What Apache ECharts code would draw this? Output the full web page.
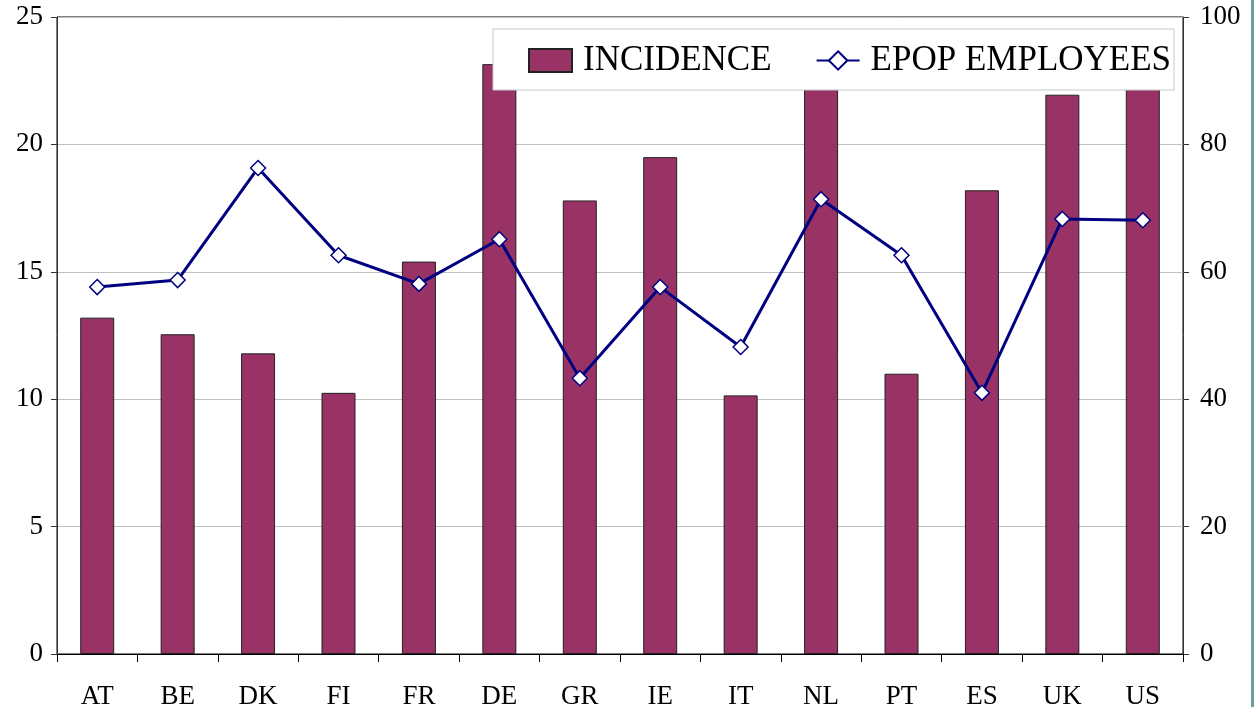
<!DOCTYPE html>
<html>
<head>
<meta charset="utf-8">
<script src="https://cdn.jsdelivr.net/npm/echarts@6/dist/echarts.min.js"></script>
<style>
  html, body { margin: 0; padding: 0; background: #fff; }
  #chart { width: 1254px; height: 707px; }
</style>
</head>
<body>
<div id="chart"></div>
<script>
  // countries
  var categories = ['AT', 'BE', 'DK', 'FI', 'FR', 'DE', 'GR', 'IE', 'IT', 'NL', 'PT', 'ES', 'UK', 'US'];
  // left axis, bars
  var incidence = [13.2, 12.55, 11.8, 10.25, 15.4, 23.15, 17.8, 19.5, 10.15, 23.5, 11.0, 18.2, 21.95, 23.0];
  // right axis, line
  var epopEmployees = [57.6, 58.7, 76.3, 62.6, 58.1, 65.1, 43.3, 57.6, 48.2, 71.4, 62.6, 41.0, 68.3, 68.1];
  var leftTicks = [0, 25, 5];
  var rightTicks = [0, 100, 20];

  var font = '"Liberation Serif", "Times New Roman", serif';
  var myChart = echarts.init(document.getElementById('chart'));
  var option = {
    backgroundColor: '#fff',
    animation: false,
    grid: {
      left: 57, right: 71, top: 17, bottom: 53,
      outerBoundsMode: 'none',
      containLabel: false,
      show: true,
      borderColor: '#000',
      borderWidth: 1
    },
    legend: {
      left: 493,
      top: 29,
      padding: [8, 3, 6, 35],
      itemGap: 44,
      itemWidth: 43,
      itemHeight: 23,
      backgroundColor: '#fff',
      borderColor: '#c8c8c8',
      borderWidth: 1,
      textStyle: { fontFamily: font, fontSize: 35, lineHeight: 35, color: '#000', padding: [12, 0, 0, 6] },
      data: [
        { name: 'INCIDENCE', icon: 'rect' },
        { name: 'EPOP EMPLOYEES' }
      ]
    },
    xAxis: {
      type: 'category',
      data: categories,
      axisLine: { lineStyle: { color: '#000', width: 1 } },
      axisTick: { show: true, length: 8, inside: false, lineStyle: { color: '#000' } },
      axisLabel: { fontFamily: font, fontSize: 27, color: '#000', margin: 29 }
    },
    yAxis: [{
      type: 'value',
      min: leftTicks[0], max: leftTicks[1], interval: leftTicks[2],
      axisLine: { show: true, lineStyle: { color: '#333' } },
      axisTick: { show: true, length: 6, lineStyle: { color: '#333' } },
      axisLabel: { fontFamily: font, fontSize: 27, color: '#000', margin: 14 },
      splitLine: { lineStyle: { color: '#c0c0c0' } }
    }, {
      type: 'value',
      position: 'right',
      min: rightTicks[0], max: rightTicks[1], interval: rightTicks[2],
      axisLine: { show: true, lineStyle: { color: '#333' } },
      axisTick: { show: true, length: 6, lineStyle: { color: '#333' } },
      axisLabel: { fontFamily: font, fontSize: 27, color: '#000', margin: 17 },
      splitLine: { show: false }
    }],
    series: [{
      name: 'INCIDENCE',
      type: 'bar',
      data: incidence,
      barWidth: 34,
      itemStyle: { color: '#993366', borderColor: '#222', borderWidth: 1 }
    }, {
      name: 'EPOP EMPLOYEES',
      type: 'line',
      yAxisIndex: 1,
      data: epopEmployees,
      symbol: 'diamond',
      symbolSize: 15,
      lineStyle: { color: '#000080', width: 3 },
      itemStyle: { color: '#fff', borderColor: '#000080', borderWidth: 1.5 },
      z: 3
    }],
    graphic: [{
      type: 'rect',
      right: 0, top: 0,
      shape: { width: 3, height: 707 },
      style: { fill: '#6f9c9c' }
    }]
  };
  myChart.setOption(option);
</script>
</body>
</html>
